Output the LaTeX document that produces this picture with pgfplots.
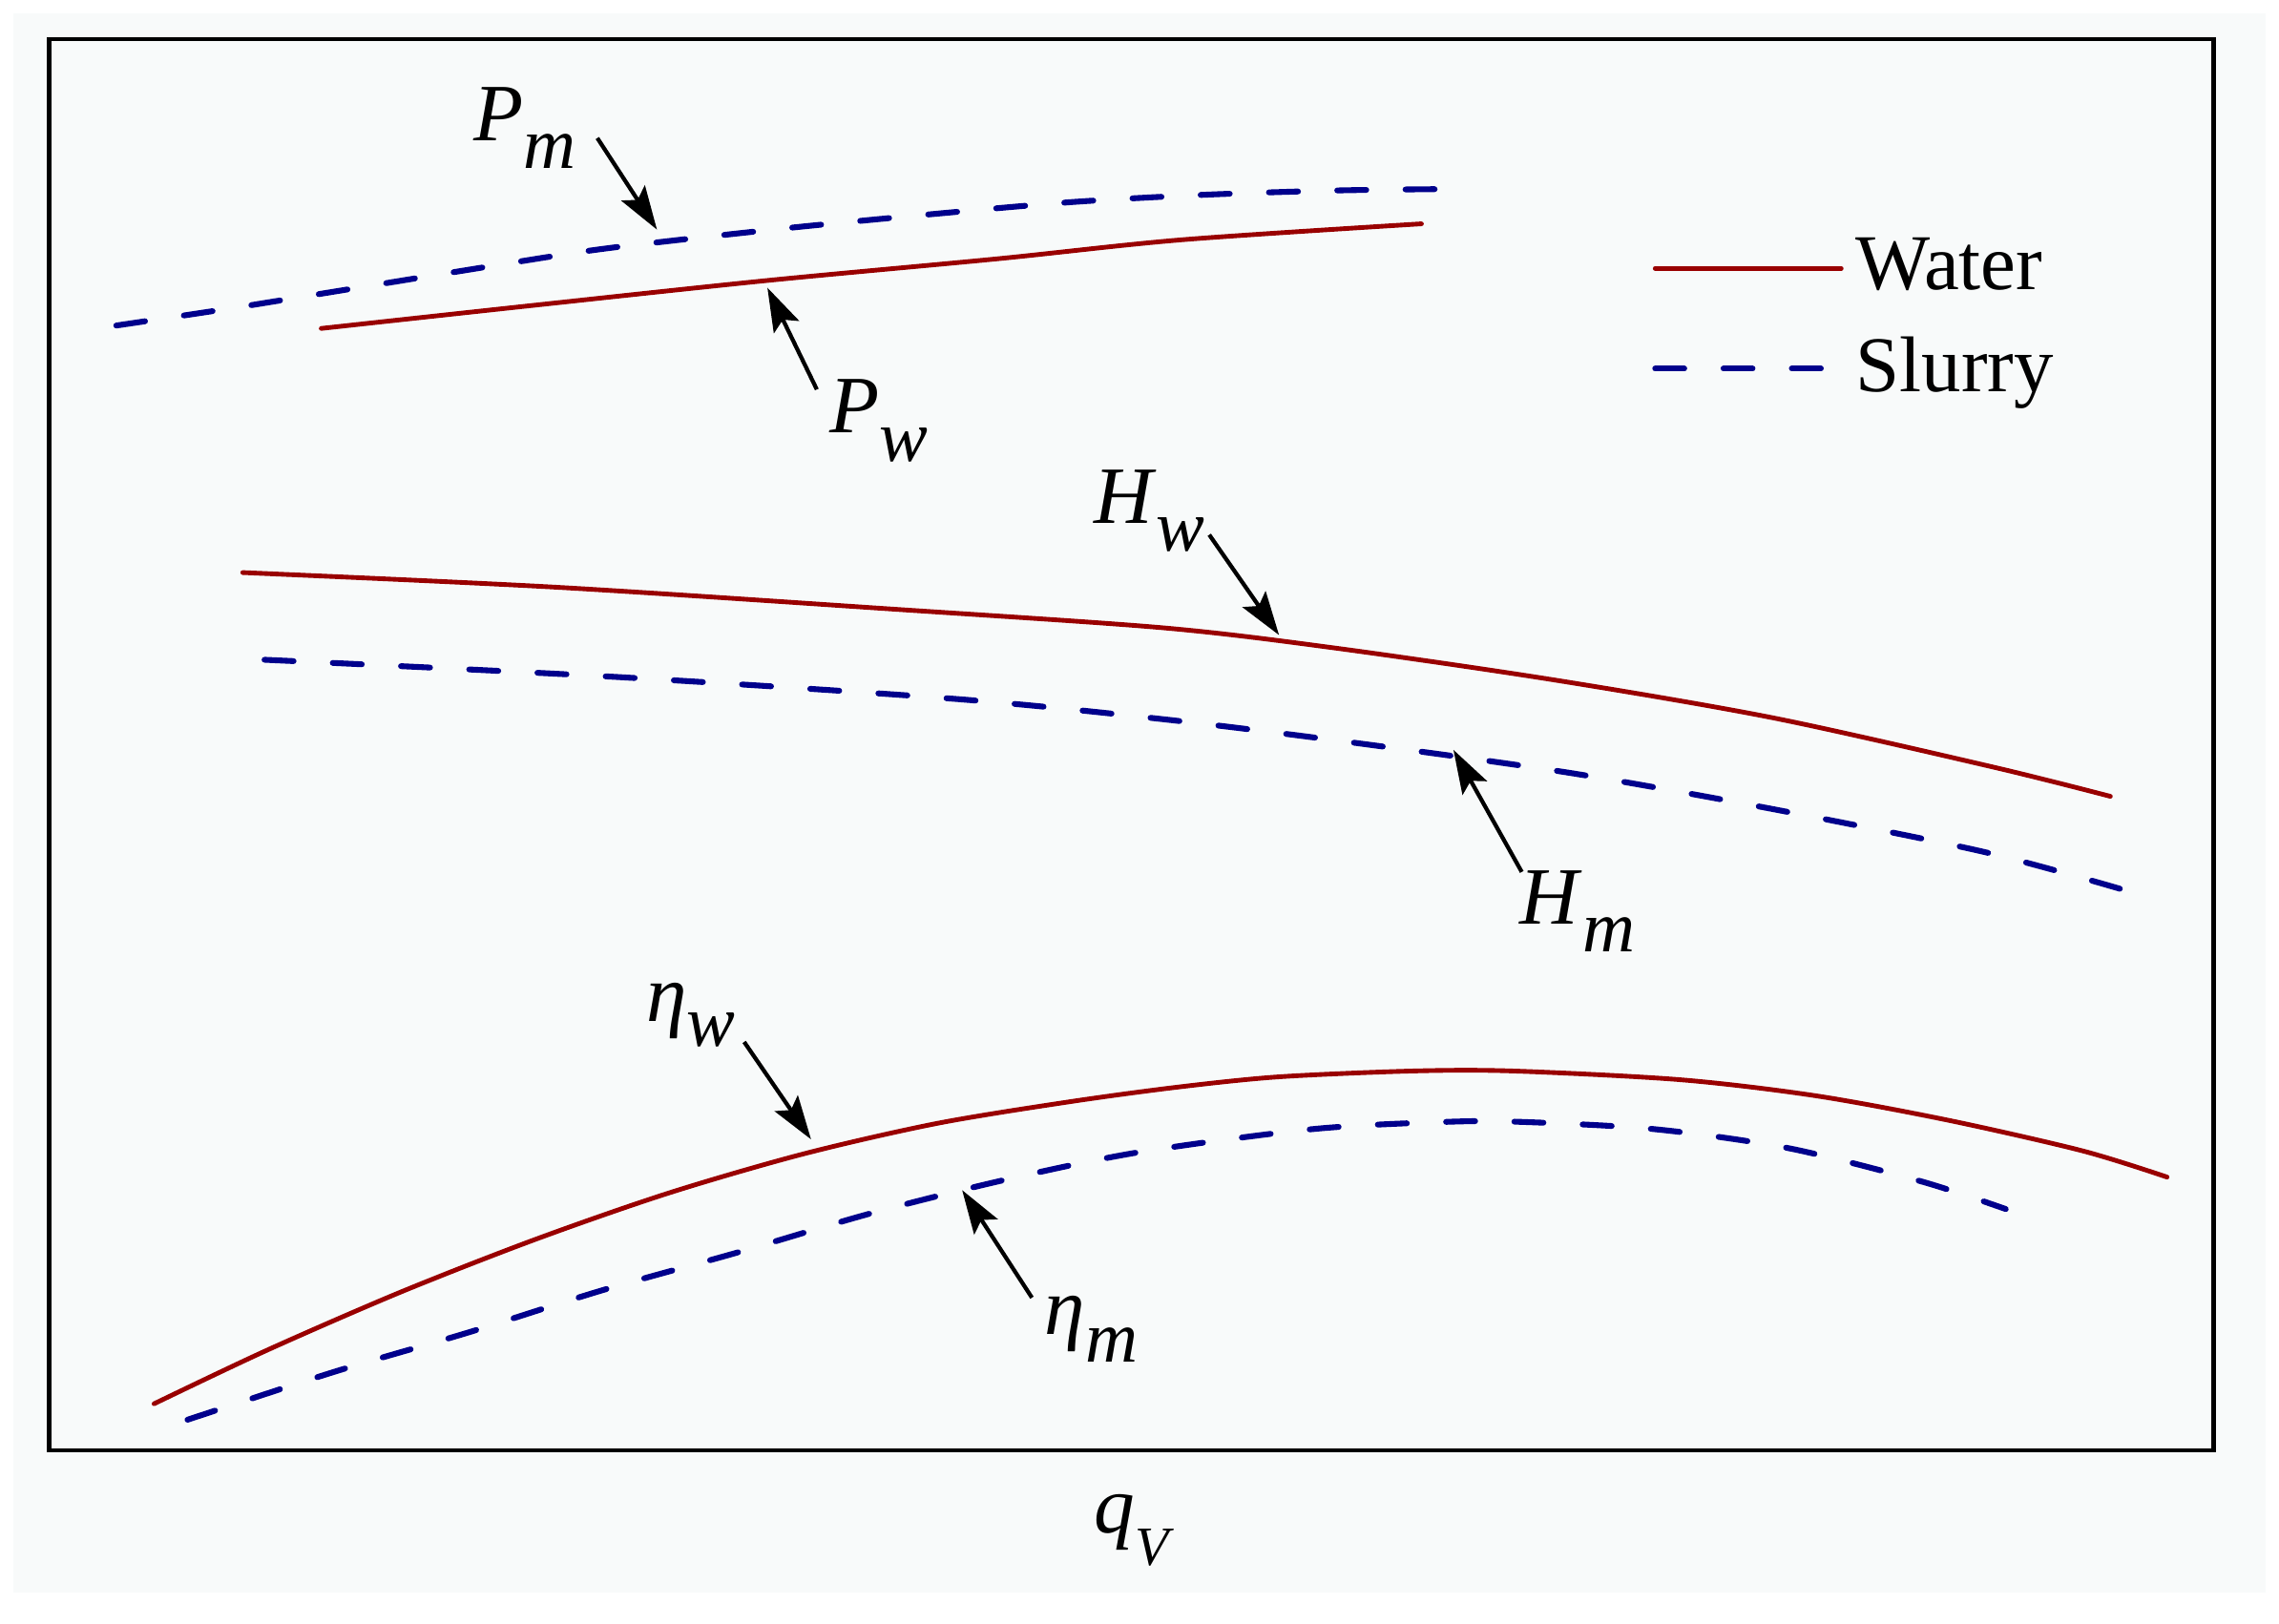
\documentclass[border=0pt]{standalone}
\usepackage{pgfplots}
\pgfplotsset{compat=1.18}
\usepackage{fontspec}
\setmainfont{Liberation Serif}
\usetikzlibrary{arrows.meta,backgrounds}
\definecolor{wred}{RGB}{153,0,0}
\definecolor{sblue}{RGB}{0,0,140}
\definecolor{bgc}{RGB}{248,250,250}
\newcommand{\lab}[2]{\textit{#1}\raisebox{-4.8pt}{\fontsize{12.5}{13}\selectfont\textit{#2}}}
\tikzset{ann/.style={line width=0.7pt,-{Stealth[length=7.5pt,width=4.8pt,inset=1.4pt]}},
 lab/.style={anchor=base west,inner sep=0pt,font=\fontsize{14}{16}\selectfont}}
\begin{document}
\begin{tikzpicture}
\begin{axis}[
  scale only axis, width=372.25pt, height=242.75pt,
  xmin=34, xmax=1523, ymin=27, ymax=998, y dir=reverse,
  ticks=none, clip=false,
  axis line style={line width=0.75pt},
  legend style={draw=none, fill=none, at={(axis cs:1136,155)}, anchor=north west,
    font=\fontsize{13.6}{16}\selectfont, row sep=2.6pt, inner sep=0pt,
    /tikz/every even column/.append style={column sep=2.6pt}},
  legend cell align=left,
  legend image code/.code={\draw[#1] (0pt,0pt) -- (32pt,0pt);},
  wline/.style={wred, line width=0.8pt, line cap=round},
  sline/.style={sblue, line width=1pt, line cap=round, dash pattern=on 5pt off 6.75pt},
]
\path (axis cs:0,0) rectangle (axis cs:1568,1117);
\coordinate (bgA) at (axis cs:9,1096);
\coordinate (bgB) at (axis cs:1559,9);
% P_w (water)
\addplot[wline, smooth] coordinates {(221,226) (368,210) (528,193) (687,178) (813,165) (978,154)};
\addlegendentry{Water}
% P_m (slurry)
\addplot[sline, smooth] coordinates {(80,224) (160,212) (234,200) (320,186) (402,173) (459,166) (551,156) (645,147) (738,139) (829,134) (922,131) (1007,130)};
\addlegendentry{Slurry}
% H_w
\addplot[wline, smooth, forget plot] coordinates {(167,394) (381,404) (612,419) (800,432) (919,446) (1070,468) (1220,494) (1372,528) (1452,548)};
% H_m
\addplot[sline, smooth, forget plot] coordinates {(182,454) (427,466) (658,481) (801,495) (931,511) (1081,532) (1221,557) (1364,586) (1460,612)};
% eta_w
\addplot[wline, smooth, forget plot] coordinates {(106,966) (184,929) (276,889) (368,853) (460,821) (553,794) (645,773) (737,758) (811,748) (880,741) (972,737) (1041,737) (1156,743) (1249,754) (1341,771) (1433,792) (1491,810)};
% eta_m
\addplot[sline, smooth, forget plot] coordinates {(129,977) (230,944) (322,917) (414,888) (507,862) (599,835) (691,812) (783,793) (903,777) (995,772) (1046,772) (1138,777) (1230,790) (1322,813) (1380,832)};
% annotations
\draw[ann] (axis cs:411,95) -- (axis cs:452,158);
\draw[ann] (axis cs:562,268) -- (axis cs:528,198);
\draw[ann] (axis cs:832,368) -- (axis cs:880,437);
\draw[ann] (axis cs:1047,600) -- (axis cs:1000,516);
\draw[ann] (axis cs:512,717) -- (axis cs:558,784);
\draw[ann] (axis cs:710,893) -- (axis cs:662,819);
\node[lab] at (axis cs:325,97) {\lab{P}{m}};
\node[lab] at (axis cs:570,298) {\lab{P}{w}};
\node[lab] at (axis cs:752,360) {\lab{H}{w}};
\node[lab] at (axis cs:1045,636) {\lab{H}{m}};
\node[lab] at (axis cs:444,703) {\textit{η}\raisebox{-4.3pt}{\fontsize{12.5}{13}\selectfont\textit{w}}};
\node[lab] at (axis cs:718,918) {\textit{η}\raisebox{-4.8pt}{\fontsize{12.5}{13}\selectfont\textit{m}}};
\node[lab] at (axis cs:752,1055) {\textit{q}\raisebox{-5.5pt}{\fontsize{9.5}{10}\selectfont\textit{V}}};
\end{axis}
\begin{scope}[on background layer]
\fill[bgc] (bgA) rectangle (bgB);
\end{scope}
\end{tikzpicture}
\end{document}
